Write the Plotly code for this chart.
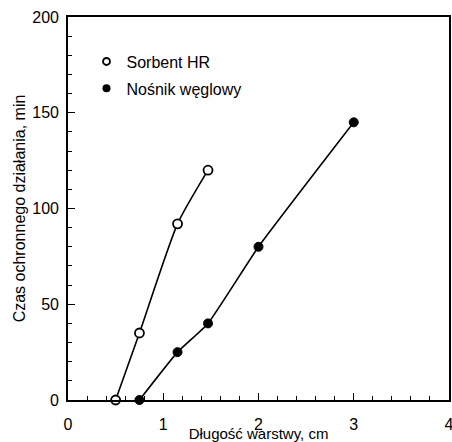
import plotly.graph_objects as go

# Data
sorbent_x = [0.5, 0.75, 1.15, 1.47]
sorbent_y = [0, 35, 92, 120]
nosnik_x = [0.75, 1.15, 1.47, 2.0, 3.0]
nosnik_y = [0, 25, 40, 80, 145]

x_ticks = [0, 1, 2, 3, 4]
y_ticks = [0, 50, 100, 150, 200]

FONT = "Liberation Sans, Arial, sans-serif"

fig = go.Figure()

fig.add_trace(go.Scatter(
    x=sorbent_x, y=sorbent_y, mode="lines+markers",
    line=dict(color="black", width=1.6, shape="spline", smoothing=0.6),
    marker=dict(symbol="circle", size=9, color="white", line=dict(color="black", width=1.8)),
    showlegend=False, cliponaxis=False,
))
fig.add_trace(go.Scatter(
    x=nosnik_x, y=nosnik_y, mode="lines+markers",
    line=dict(color="black", width=1.6, shape="spline", smoothing=0.4),
    marker=dict(symbol="circle", size=9, color="black", line=dict(color="black", width=1)),
    showlegend=False, cliponaxis=False,
))
# legend entries (marker only)
fig.add_trace(go.Scatter(
    x=[None], y=[None], mode="markers", name="Sorbent HR", legendgroup="a",
    marker=dict(symbol="circle", size=7, color="white", line=dict(color="black", width=1.8)),
))
fig.add_trace(go.Scatter(
    x=[None], y=[None], mode="markers", name="Nośnik węglowy", legendgroup="b",
    marker=dict(symbol="circle", size=8, color="black"),
))

axis_common = dict(
    showgrid=False, zeroline=False, showline=True, linecolor="black", linewidth=1.6,
    mirror=True, ticks="inside", ticklen=7, tickwidth=1.3, tickcolor="black",
    tickfont=dict(family=FONT, size=16, color="black"),
    automargin=False, ticklabeloverflow="allow",
)

fig.update_xaxes(
    range=[0, 4], tickvals=x_ticks, ticktext=[str(v) for v in x_ticks],
    minor=dict(dtick=0.2, ticks="inside", ticklen=4, tickcolor="black", tickwidth=1),
    ticklabelstandoff=9,
    title=dict(text="Długość warstwy, cm", font=dict(family=FONT, size=15, color="black"), standoff=4),
    **axis_common,
)
fig.update_yaxes(
    range=[0, 200], tickvals=y_ticks, ticktext=[str(v) for v in y_ticks],
    minor=dict(dtick=10, ticks="inside", ticklen=4, tickcolor="black", tickwidth=1),
    ticklabelstandoff=4,
    title=dict(text="Czas ochronnego działania, min", font=dict(family=FONT, size=16, color="black"), standoff=3),
    **axis_common,
)

fig.update_layout(
    width=452, height=442,
    margin=dict(l=68, r=3, t=17, b=42),
    paper_bgcolor="white", plot_bgcolor="white",
    font=dict(family=FONT, color="black"),
    legend=dict(
        x=0.0486, y=0.928, xanchor="left", yanchor="top",
        bgcolor="rgba(0,0,0,0)", font=dict(family=FONT, size=16, color="black"),
        traceorder="grouped", tracegroupgap=3,
    ),
)

fig.write_html(
    "out.html",
    config={"displayModeBar": False},
    post_script="document.body.style.margin='0';document.body.style.overflow='hidden';",
)
